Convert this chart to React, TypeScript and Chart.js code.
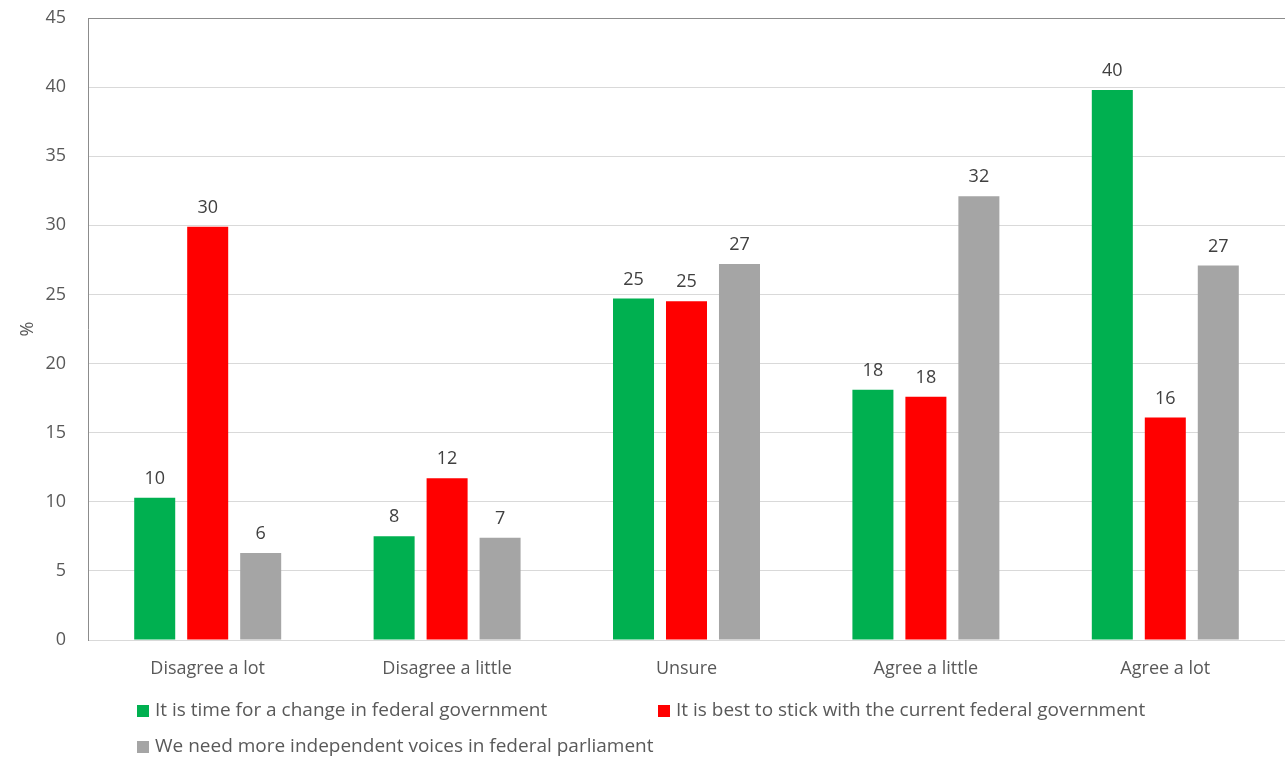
import React, { useEffect, useRef } from "react";
import { Chart, registerables } from "chart.js";

Chart.register(...registerables);

const categories = ["Disagree a lot", "Disagree a little", "Unsure", "Agree a little", "Agree a lot"];
const changeGov = [10.3, 7.5, 24.7, 18.1, 39.8];
const stickGov = [29.9, 11.7, 24.5, 17.6, 16.1];
const independents = [6.3, 7.4, 27.2, 32.1, 27.1];
const seriesNames = [
  "It is time for a change in federal government",
  "It is best to stick with the current federal government",
  "We need more independent voices in federal parliament",
];
const seriesColors = ["#00B050", "#FF0000", "#A5A5A5"];

const FONT = "'Open Sans', Lato, sans-serif";
const TEXT = "#595959";
const SIZE = 18;
const LEGEND_SIZE = 19;

// Value labels above each bar, rounded to whole percentages
const valueLabels = {
  id: "valueLabels",
  afterDatasetsDraw(chart: any) {
    const { ctx } = chart;
    ctx.save();
    ctx.font = `${SIZE}px ${FONT}`;
    ctx.fillStyle = "#404040";
    ctx.textAlign = "center";
    ctx.textBaseline = "middle";
    chart.data.datasets.forEach((ds: any, di: number) => {
      const meta = chart.getDatasetMeta(di);
      meta.data.forEach((bar: any, i: number) => {
        ctx.fillText(String(Math.round(ds.data[i])), bar.x, bar.y - 19);
      });
    });
    ctx.restore();
  },
};

// Two-row legend laid out under the category labels
const bottomLegend = {
  id: "bottomLegend",
  afterDraw(chart: any) {
    const { ctx, chartArea } = chart;
    const slots = [
      { x: chartArea.left + 49, y: chartArea.bottom + 71 },
      { x: chartArea.left + 570, y: chartArea.bottom + 71 },
      { x: chartArea.left + 49, y: chartArea.bottom + 107 },
    ];
    ctx.save();
    ctx.font = `${LEGEND_SIZE}px ${FONT}`;
    ctx.textAlign = "left";
    ctx.textBaseline = "middle";
    chart.data.datasets.forEach((ds: any, i: number) => {
      const s = slots[i];
      ctx.fillStyle = ds.backgroundColor;
      ctx.fillRect(s.x, s.y - 6, 12, 12);
      ctx.fillStyle = TEXT;
      ctx.fillText(ds.label, s.x + 18, s.y);
    });
    ctx.restore();
  },
};

export default function App() {
  const canvasRef = useRef<HTMLCanvasElement | null>(null);

  useEffect(() => {
    let chart: Chart | null = null;
    let cancelled = false;
    const build = () => {
      if (cancelled || !canvasRef.current) return;
      chart = new Chart(canvasRef.current, {
        type: "bar",
        data: {
          labels: categories,
          datasets: [changeGov, stickGov, independents].map((d, i) => ({
            label: seriesNames[i],
            data: d,
            backgroundColor: seriesColors[i],
            borderWidth: 0,
            categoryPercentage: 0.664,
            barPercentage: 0.774,
          })),
        },
        options: {
          responsive: false,
          animation: false,
          layout: { padding: { top: 18, right: 0, bottom: 0, left: 0 } },
          plugins: {
            legend: { display: false },
            tooltip: { enabled: false },
          },
          scales: {
            x: {
              grid: { display: false, drawTicks: false },
              border: { display: true, color: "#D9D9D9", width: 1 },
              ticks: { color: TEXT, font: { family: FONT, size: SIZE }, padding: 18, maxRotation: 0 },
              afterFit(scale: any) {
                scale.height = 118;
                scale.paddingLeft = 0;
                scale.paddingRight = 0;
              },
            },
            y: {
              min: 0,
              max: 45,
              ticks: { stepSize: 5, color: TEXT, font: { family: FONT, size: SIZE }, padding: 22 },
              grid: {
                drawTicks: false,
                color: (c: any) => (c.tick && c.tick.value === 45 ? "#8C8C8C" : "#D9D9D9"),
                lineWidth: 1,
              },
              border: { display: true, color: "#8C8C8C", width: 1 },
              title: {
                display: true,
                text: "%",
                color: TEXT,
                font: { family: FONT, size: SIZE },
                padding: { top: 17, bottom: 0 },
              },
              afterFit(scale: any) {
                scale.width = 88;
                scale.paddingTop = 0;
                scale.paddingBottom = 0;
              },
            },
          },
        },
        plugins: [valueLabels, bottomLegend],
      });
    };
    const fonts: any = (document as any).fonts;
    if (fonts && fonts.load) {
      fonts.load(`${SIZE}px 'Open Sans'`).then(build, build);
    } else {
      build();
    }
    return () => {
      cancelled = true;
      if (chart) chart.destroy();
    };
  }, []);

  return (
    <div style={{ position: "absolute", left: 0, top: 0, width: 1285, height: 758, background: "#fff" }}>
      <canvas ref={canvasRef} width={1285} height={758} style={{ display: "block" }} />
    </div>
  );
}
